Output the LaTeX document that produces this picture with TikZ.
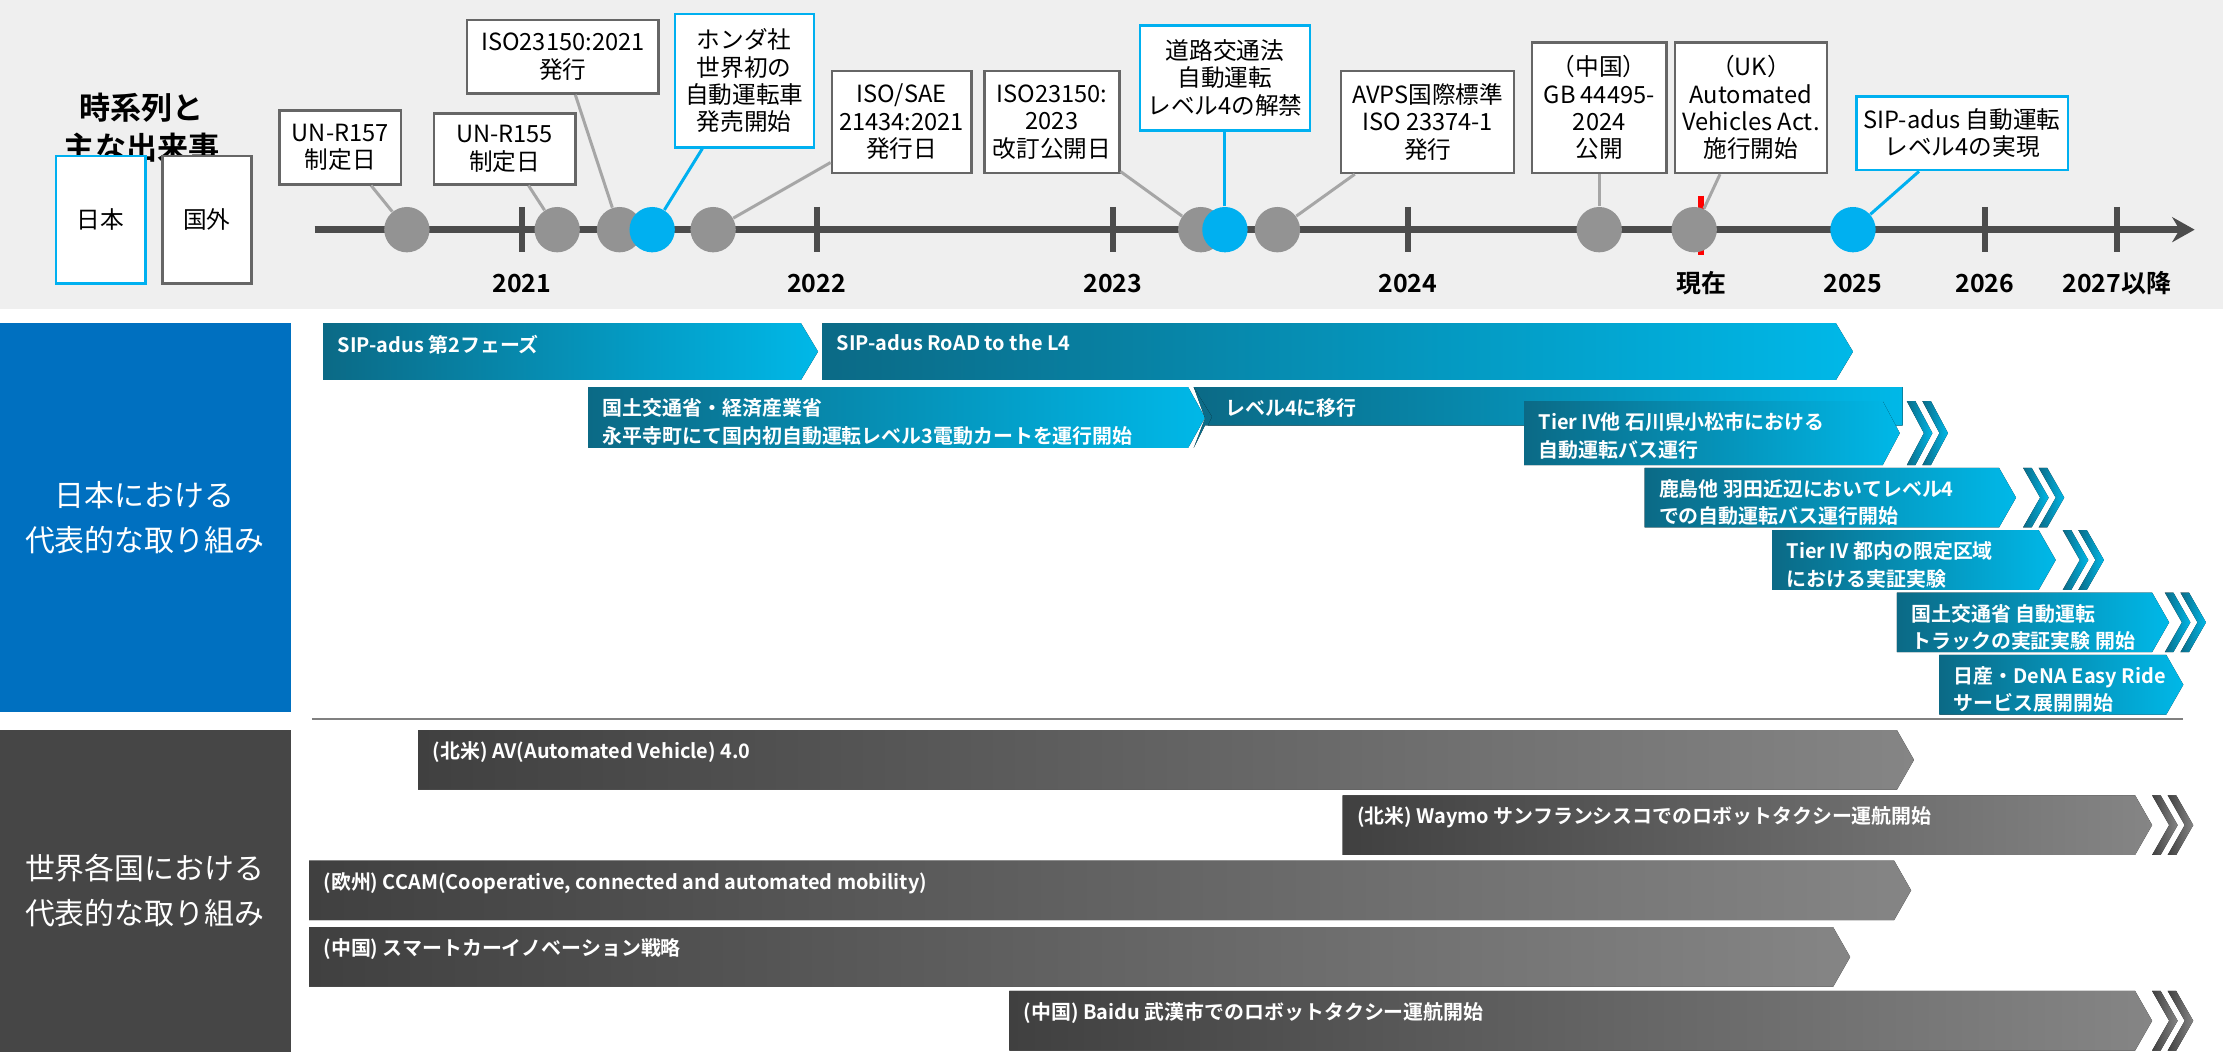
\documentclass[tikz,border=0pt]{standalone}
\usepackage{fontspec}
\setmainfont{Noto Sans CJK JP}[BoldFont={Noto Sans CJK JP Bold}]
\usepackage{tikz}
\usetikzlibrary{calc,arrows.meta}
\definecolor{jpblue}{HTML}{0070C0}
\definecolor{skyb}{HTML}{00B0F0}
\definecolor{jpdark}{HTML}{0B6A86}
\definecolor{jplight}{HTML}{00B8E8}
\definecolor{wddark}{HTML}{404040}
\definecolor{wdlight}{HTML}{858585}
\definecolor{band}{HTML}{EFEFEF}
\tikzset{
  evbox/.style={draw=gray!80!black, fill=white, line width=1pt, align=center, inner sep=3pt, font=\fontsize{9.5}{11}\selectfont},
  evblue/.style={evbox, draw=skyb},
  dot/.style={circle, minimum size=0.64cm, inner sep=0pt, fill=gray!85},
  dotb/.style={dot, fill=skyb},
  yr/.style={font=\bfseries\fontsize{10}{12}\selectfont},
  bartext/.style={text=white, anchor=north west, align=left, font=\bfseries\fontsize{8}{11}\selectfont},
  jp/.style={left color=jpdark, right color=jplight},
  wd/.style={left color=wddark, right color=wdlight},
}
% bar: x1, y1, x2, y2, style, label
\newcommand\tlbar[6]{%
  \fill[#5] (#1,#2) -- ({#3-12},#2) -- (#3,{(#2+#4)/2}) -- ({#3-12},#4) -- (#1,#4) -- cycle;
  \node[bartext] at ({#1+4},{#2+2}) {#6};}
% double chevron after the tip
\newcommand\tlchev[5]{%
  \foreach \d in {5,16}
    \fill[#5] ({#3+\d},#2) -- ({#3+\d+6},#2) -- ({#3+\d+18},{(#2+#4)/2}) -- ({#3+\d+6},#4) -- ({#3+\d},#4) -- ({#3+\d+12},{(#2+#4)/2}) -- cycle;}

\begin{document}
\begin{tikzpicture}[x=0.02cm,y=-0.02cm]
\useasboundingbox (0,0) rectangle (1568,742);
\fill[band] (0,0) rectangle (1568,218);

% title and legend
\node[font=\bfseries\fontsize{12.5}{16}\selectfont, align=center] (title) at (100,90) {時系列と\\主な出来事};
\node[draw=skyb, line width=1pt, minimum width=1.26cm, minimum height=1.8cm, font=\fontsize{9.5}{11}\selectfont, fill=white] (lgjp) at (71,155) {日本};
\node[draw=gray!80!black, line width=1pt, minimum width=1.26cm, minimum height=1.8cm, font=\fontsize{9.5}{11}\selectfont, fill=white] (lgwd) at (146,155) {国外};

% axis
\coordinate (ax0) at (222,162);
\coordinate (ax1) at (1548,162);
\draw[line width=3pt, gray!60!black, -{Stealth[length=9pt,width=10pt]}] (ax0) -- (ax1);
\foreach \x/\t in {368/2021,576/2022,785/2023,993/2024,1307/2025,1400/2026,1493/2027以降} {
  \draw[line width=2.5pt, gray!60!black] (\x,146) -- (\x,178);
  \node[yr] at (\x,200) {\t};
}
\draw[line width=2.5pt, red] (1200,138) -- (1200,180);
\node[yr] at (1200,200) {現在};

% events
\node[dot] (c1) at (287,162) {};
\node[dot] (c2) at (393,162) {};
\node[dot] (c3) at (437,162) {};
\node[dotb] (c4) at (460,162) {};
\node[dot] (c5) at (503,162) {};
\node[dot] (c6) at (847,162) {};
\node[dotb] (c7) at (864,162) {};
\node[dot] (c8) at (901,162) {};
\node[dot] (c9) at (1128,162) {};
\node[dot] (c10) at (1195,162) {};
\node[dotb] (c11) at (1307,162) {};

\node[evbox, minimum width=1.72cm, minimum height=1.04cm] (e1) at (240,104) {UN-R157\\制定日};
\node[evbox, minimum width=2cm, minimum height=1cm] (e2) at (356,105) {UN-R155\\制定日};
\node[evbox, minimum width=2.7cm, minimum height=1.04cm] (e3) at (397,40) {ISO23150:2021\\発行};
\node[evblue, minimum width=1.96cm, minimum height=1.88cm] (e4) at (525,57) {ホンダ社\\世界初の\\自動運転車\\発売開始};
\node[evbox, minimum width=1.92cm, minimum height=1.44cm] (e5) at (636,86) {ISO/SAE\\21434:2021\\発行日};
\node[evbox, minimum width=1.9cm, minimum height=1.44cm] (e6) at (742,86) {ISO23150:\\2023\\改訂公開日};
\node[evblue, minimum width=2.36cm, minimum height=1.48cm] (e7) at (864,55) {道路交通法\\自動運転\\レベル4の解禁};
\node[evbox, minimum width=2.44cm, minimum height=1.44cm] (e8) at (1007,86) {AVPS国際標準\\ISO 23374-1\\発行};
\node[evbox, minimum width=1.9cm, minimum height=1.84cm] (e9) at (1128,76) {（中国）\\GB 44495-\\2024\\公開};
\node[evbox, minimum width=2.08cm, minimum height=1.84cm] (e10) at (1235,76) {（UK）\\Automated\\Vehicles Act.\\施行開始};
\node[evblue, minimum width=2.72cm, minimum height=1.04cm] (e11) at (1384,94) {SIP-adus 自動運転\\レベル4の実現};

\foreach \i in {1,2,3,5,6,8,9,10} \draw[gray!70, line width=1.2pt] (c\i) -- (e\i);
\foreach \i in {4,7,11} \draw[skyb, line width=1.2pt] (c\i) -- (e\i);

% section headers
\fill[jpblue] (0,228) rectangle (205,502);
\node[text=white, align=center, font=\fontsize{12}{18}\selectfont] (secjp) at (102,365) {日本における\\代表的な取り組み};
\fill[gray!55!black] (0,515) rectangle (205,742);
\node[text=white, align=center, font=\fontsize{12}{18}\selectfont] (secwd) at (102,628) {世界各国における\\代表的な取り組み};
\draw[gray, line width=0.8pt] (220,507) -- (1540,507);

% japan
\tlbar{228}{228}{577}{268}{jp}{SIP-adus 第2フェーズ}
\tlbar{580}{228}{1307}{268}{jp}{SIP-adus RoAD to the L4}
\tlbar{415}{273}{850}{316}{jp}{国土交通省・経済産業省\\永平寺町にて国内初自動運転レベル3電動カートを運行開始}
\fill[jp] (842,273) -- (1342,273) -- (1342,300) -- (850,300) -- (842,316) -- (850,295) -- cycle;
\fill[jp] (842,273) -- (1342,273) -- (1342,300) -- (852,300) -- (855,294) -- cycle;
\node[bartext] at (858,275) {レベル4に移行};
\tlbar{1075}{283}{1340}{328}{jp}{Tier IV他 石川県小松市における\\自動運転バス運行}
\tlchev{1075}{283}{1340}{328}{jp}
\tlbar{1160}{330}{1422}{372}{jp}{鹿島他 羽田近辺においてレベル4\\での自動運転バス運行開始}
\tlchev{1160}{330}{1422}{372}{jp}
\tlbar{1250}{374}{1450}{416}{jp}{Tier IV 都内の限定区域\\における実証実験}
\tlchev{1250}{374}{1450}{416}{jp}
\tlbar{1338}{418}{1530}{460}{jp}{国土交通省 自動運転\\トラックの実証実験 開始}
\tlchev{1338}{418}{1522}{460}{jp}
\tlbar{1368}{462}{1540}{504}{jp}{日産・DeNA Easy Ride\\サービス展開開始}

% world
\tlbar{295}{515}{1350}{557}{wd}{(北米) AV(Automated Vehicle) 4.0}
\tlbar{947}{561}{1518}{603}{wd}{(北米) Waymo サンフランシスコでのロボットタクシー運航開始}
\tlchev{947}{561}{1513}{603}{wd}
\tlbar{218}{607}{1348}{649}{wd}{(欧州) CCAM(Cooperative, connected and automated mobility)}
\tlbar{218}{654}{1305}{696}{wd}{(中国) スマートカーイノベーション戦略}
\tlbar{712}{699}{1518}{741}{wd}{(中国) Baidu 武漢市でのロボットタクシー運航開始}
\tlchev{712}{699}{1513}{741}{wd}
\end{tikzpicture}
\end{document}
